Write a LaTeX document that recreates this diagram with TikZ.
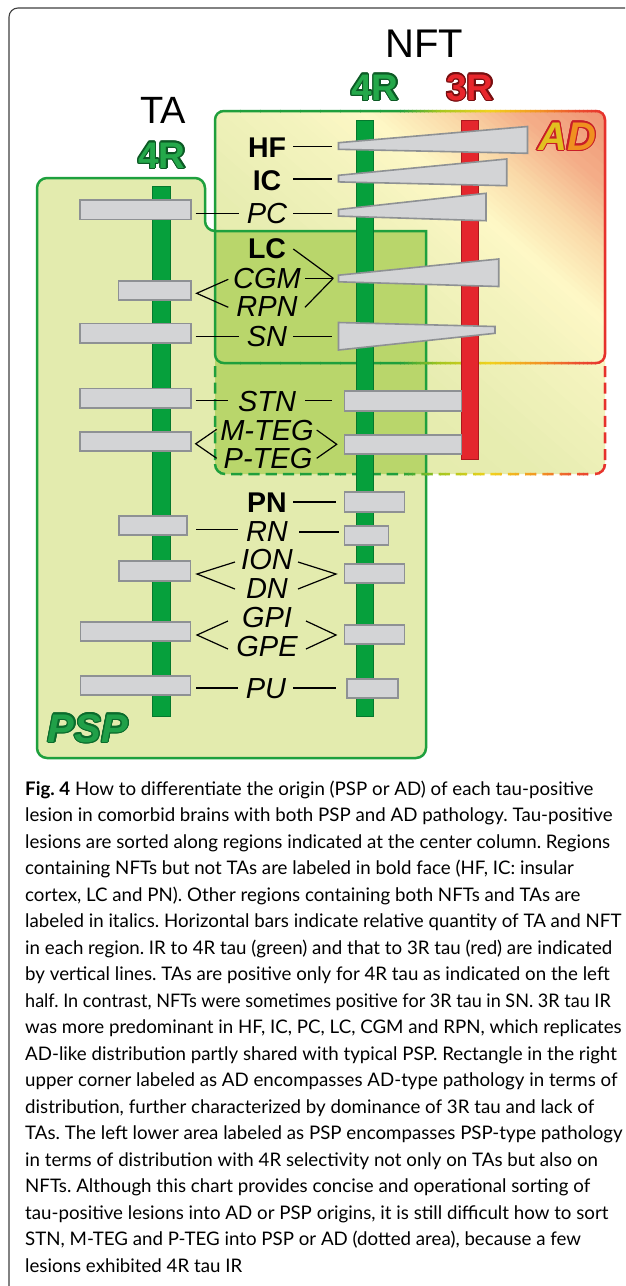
\documentclass[tikz,border=0pt]{standalone}
\usepackage{fontspec}
\usepackage{graphicx}
\setmainfont{Lato}
\newfontfamily\labfont{Liberation Sans}
\usetikzlibrary{calc}
\frenchspacing

\definecolor{pspfill}{RGB}{227,235,174}
\definecolor{ovfill}{RGB}{185,214,107}
\definecolor{grnline}{RGB}{30,160,62}
\definecolor{barg}{RGB}{6,160,60}
\definecolor{bargedge}{RGB}{5,120,46}
\definecolor{barr}{RGB}{228,38,45}
\definecolor{barredge}{RGB}{170,24,30}
\definecolor{grayfill}{RGB}{211,212,214}
\definecolor{grayedge}{RGB}{142,145,148}
\definecolor{ga}{RGB}{224,232,166}
\definecolor{gb}{RGB}{231,237,177}
\definecolor{gc}{RGB}{244,243,190}
\definecolor{gd}{RGB}{254,248,198}
\definecolor{ge}{RGB}{250,219,170}
\definecolor{gf}{RGB}{244,174,136}
\definecolor{gg}{RGB}{238,138,108}
\definecolor{ba}{RGB}{31,159,60}
\definecolor{bb}{RGB}{165,198,32}
\definecolor{bc}{RGB}{241,210,30}
\definecolor{bd}{RGB}{242,148,36}
\definecolor{be}{RGB}{236,84,48}
\definecolor{bf}{RGB}{228,37,43}
\definecolor{fourfill}{RGB}{36,168,74}
\definecolor{fouredge}{RGB}{12,90,37}
\definecolor{threefill}{RGB}{232,38,44}
\definecolor{threeedge}{RGB}{120,14,16}
\definecolor{adA}{RGB}{226,192,32}
\definecolor{adD}{RGB}{240,144,32}
\definecolor{adedge}{RGB}{200,30,40}
\definecolor{pspfont}{RGB}{32,160,72}
\definecolor{pspedge}{RGB}{11,107,44}

\tikzset{
  graybar/.style={draw=grayedge, fill=grayfill, line width=1.6pt},
  vbarg/.style={draw=bargedge, fill=barg, line width=0.8pt},
  vbarr/.style={draw=barredge, fill=barr, line width=0.8pt},
  conn/.style={black, line width=1.2pt},
  itlab/.style={font=\labfont\fontsize{29}{30}\selectfont\itshape, anchor=base, inner sep=0pt},
  bflab/.style={font=\labfont\fontsize{28.5}{30}\selectfont\bfseries, anchor=base, inner sep=0pt},
  captext/.style={anchor=base west, inner sep=0pt, font=\fontsize{18.7}{26}\selectfont},
}

\newcommand\gradstrips[3]{%
  \foreach \pa/\pb/\ca/\cb in {#1} {%
    \foreach \k in {0,...,9} {%
      \pgfmathsetmacro\xa{\pa+(\pb-\pa)*\k/10}%
      \pgfmathsetmacro\xb{\pa+(\pb-\pa)*(\k+1)/10+0.6}%
      \pgfmathtruncatemacro\pct{95-\k*10}%
      \fill[fill=\ca!\pct!\cb] (\xa,#2) rectangle (\xb,#3);
    }%
  }%
}
\newcommand\outlinedtext[6]{%
  \foreach \ang in {0,22.5,...,337.5}{\node[anchor=base, inner sep=0pt, font={#3}, text=#4, shift={(\ang:1.2)}] at (#2) {#6};}
  \node[anchor=base, inner sep=0pt, font={#3}, text=#5] (#1) at (#2) {#6};
}

\begin{document}
\begin{tikzpicture}[x=1pt,y=-1pt]
\useasboundingbox (0,0) rectangle (625,1286);
\clip (0,0) rectangle (625,1286);
\fill[white] (0,0) rectangle (625,1286);

% outer frame
\draw[line width=1.1pt, black!75] (9,1290) -- (9,17) arc[start angle=180, end angle=270, radius=9] -- (630,8);

% PSP fill
\fill[pspfill, rounded corners=10] (37,400) -- (37,178) -- (205,178) -- (205,231) [sharp corners] -- (426,231) [rounded corners=10] -- (426,758) -- (37,758) -- cycle;

% AD gradient fill (solid + dashed area)
\begin{scope}
  \clip[rounded corners=10] (215,111) rectangle (605,474);
  \begin{scope}[rotate=49]
    \gradstrips{-260/0/ga/gb, 0/100/gb/gc, 100/155/gc/gd, 155/205/gd/ge, 205/255/ge/gf, 255/340/gf/gg}{-1500}{1500}
  \end{scope}
\end{scope}

% overlap
\begin{scope}
  \clip[rounded corners=10] (215,111) rectangle (605,474);
  \clip[rounded corners=10] (37,400) -- (37,178) -- (205,178) -- (205,231) [sharp corners] -- (426,231) [rounded corners=10] -- (426,758) -- (37,758) -- cycle;
  \fill[ovfill] (200,200) rectangle (440,480);
\end{scope}

% PSP border
\draw[grnline, line width=2.5pt, rounded corners=10] (37,400) -- (37,178) -- (205,178) -- (205,231) [sharp corners] -- (426,231) [rounded corners=10] -- (426,758) -- (37,758) -- cycle;

% AD solid border (gradient ring)
\begin{scope}[even odd rule]
  \clip[rounded corners=10] (213.75,109.75) rectangle (606.25,364.25) [rounded corners=7.5] (216.25,112.25) rectangle (603.75,361.75);
  \gradstrips{200/400/ba/ba, 400/440/ba/bb, 440/490/bb/bc, 490/540/bc/bd, 540/575/bd/be, 575/615/be/bf}{100}{480}
\end{scope}

% AD dashed border
\begin{scope}
  \clip \foreach \k in {0,...,5} {(213.75,366+16.6*\k) rectangle (216.25,377+16.6*\k) (603.75,366+16.6*\k) rectangle (606.25,377+16.6*\k)}
        \foreach \k in {0,...,20} {(231+17.3*\k,472.75) rectangle (242.3+17.3*\k,475.25)}
        (213.75,464) arc[start angle=180,end angle=90,radius=11.25] -- (225,472.75) arc[start angle=90,end angle=180,radius=8.75] -- cycle
        (606.25,464) arc[start angle=0,end angle=90,radius=11.25] -- (595,472.75) arc[start angle=90,end angle=0,radius=8.75] -- cycle;
  \gradstrips{200/400/ba/ba, 400/440/ba/bb, 440/490/bb/bc, 490/540/bc/bd, 540/575/bd/be, 575/615/be/bf}{100}{480}
\end{scope}

% vertical bars
\draw[vbarg] (152.7,186) rectangle (170,716);
\draw[vbarg] (356,120) rectangle (373,716);
\draw[vbarr] (461,120) rectangle (478,459);

% TA bars
\draw[graybar] (80,200) rectangle (191,219.3);
\draw[graybar] (118.5,280.7) rectangle (191,300);
\draw[graybar] (80,323.3) rectangle (191,342.7);
\draw[graybar] (80,388.3) rectangle (191,407.7);
\draw[graybar] (80,431.7) rectangle (191,451);
\draw[graybar] (119,516) rectangle (187,535);
\draw[graybar] (119,561) rectangle (190.5,581);
\draw[graybar] (80.5,622) rectangle (190.5,641);
\draw[graybar] (80.5,676) rectangle (190.5,695);

% NFT bars
\draw[graybar] (344.5,391) rectangle (461.5,411);
\draw[graybar] (344.5,435) rectangle (461.5,454);
\draw[graybar] (344.5,492) rectangle (404.5,512);
\draw[graybar] (344.5,526) rectangle (388.6,545);
\draw[graybar] (344.5,564) rectangle (404.5,583);
\draw[graybar] (344.5,625) rectangle (404.5,644);
\draw[graybar] (347,679) rectangle (398,698);

% NFT wedges
\draw[graybar, line join=miter] (338.5,142.7) -- (527.5,126.5) -- (527.5,153.3) -- (338.5,149.3) -- cycle;
\draw[graybar, line join=miter] (338.5,175.3) -- (506.7,159) -- (506.7,185.7) -- (338.5,181.9) -- cycle;
\draw[graybar, line join=miter] (338.5,209.5) -- (486,193.3) -- (486,220.7) -- (338.5,216.1) -- cycle;
\draw[graybar, line join=miter] (338.5,275.2) -- (498.7,259) -- (498.7,286.5) -- (338.5,281.8) -- cycle;
\draw[graybar, line join=miter] (338.5,322.5) -- (495,326.5) -- (495,333.3) -- (338.5,350) -- cycle;

% labels
\node[bflab] (hf) at (267,157.7) {HF};
\node[bflab] (ic) at (267,190.5) {IC};
\node[itlab] (pc) at (267,223.3) {PC};
\node[bflab] (lc) at (267,258.7) {LC};
\node[itlab] (cgm) at (267,288.3) {CGM};
\node[itlab] (rpn) at (267,316.5) {RPN};
\node[itlab] (sn) at (267,346.7) {SN};
\node[itlab] (stn) at (267,411.5) {STN};
\node[itlab] (mteg) at (267,440.7) {M-TEG};
\node[itlab] (pteg) at (268,468.7) {P-TEG};
\node[bflab] (pn) at (267,512) {PN};
\node[itlab] (rn) at (267,541) {RN};
\node[itlab] (ion) at (267,569) {ION};
\node[itlab] (dn) at (267,598) {DN};
\node[itlab] (gpi) at (267,627) {GPI};
\node[itlab] (gpe) at (267,656) {GPE};
\node[itlab] (pu) at (266,698) {PU};

% connector end points
\coordinate (hfA) at (293.3,146.5); \coordinate (hfB) at (331.7,146.5);
\coordinate (icA) at (293.3,179); \coordinate (icB) at (331.7,179);
\coordinate (pcL1) at (195.7,213.3); \coordinate (pcL2) at (239,213.3);
\coordinate (pcR1) at (293.3,213.3); \coordinate (pcR2) at (331.7,213.3);
\coordinate (lcE) at (293.3,249); \coordinate (cgmE) at (305,278.3); \coordinate (rpnE) at (305,307.3); \coordinate (vR1) at (333.3,278.3);
\coordinate (vL1) at (196.7,293.3); \coordinate (cgmW) at (228.3,279.3); \coordinate (rpnW) at (228.3,307.3);
\coordinate (snL1) at (195.7,336.7); \coordinate (snL2) at (239,336.7);
\coordinate (snR1) at (293.3,336.7); \coordinate (snR2) at (331.7,336.7);
\coordinate (stnL1) at (195.7,400.7); \coordinate (stnL2) at (228.3,400.7);
\coordinate (stnR1) at (305,400.7); \coordinate (stnR2) at (331.7,400.7);
\coordinate (vL2) at (195.7,443.8); \coordinate (mtW) at (216.7,429.3); \coordinate (ptW) at (216.7,458.3);
\coordinate (vR2) at (336.7,444.3); \coordinate (mtE) at (316.7,430); \coordinate (ptE) at (316.7,458.3);
\coordinate (pnA) at (293.3,502); \coordinate (pnB) at (336,502);
\coordinate (rnL1) at (196,529.5); \coordinate (rnL2) at (238,529.5);
\coordinate (rnR1) at (299,532); \coordinate (rnR2) at (339,532);
\coordinate (vL3) at (197,574); \coordinate (ionW) at (235,562); \coordinate (dnW) at (235,589);
\coordinate (vR3) at (336,574); \coordinate (ionE) at (298,562); \coordinate (dnE) at (298,589);
\coordinate (vL4) at (197,635); \coordinate (gpiW) at (228,621); \coordinate (gpeW) at (228,649);
\coordinate (vR4) at (336,635); \coordinate (gpiE) at (306,621); \coordinate (gpeE) at (306,649);
\coordinate (puL1) at (196,688); \coordinate (puL2) at (238,688);
\coordinate (puR1) at (293,688); \coordinate (puR2) at (336,688);

\draw[conn] (hfA) -- (hfB);
\draw[conn] (icA) -- (icB);
\draw[conn] (pcL1) -- (pcL2);
\draw[conn] (pcR1) -- (pcR2);
\draw[conn] (lcE) -- (vR1);
\draw[conn] (cgmE) -- (vR1);
\draw[conn] (rpnE) -- (vR1);
\draw[conn] (cgmW) -- (vL1) -- (rpnW);
\draw[conn] (snL1) -- (snL2);
\draw[conn] (snR1) -- (snR2);
\draw[conn] (stnL1) -- (stnL2);
\draw[conn] (stnR1) -- (stnR2);
\draw[conn] (mtW) -- (vL2) -- (ptW);
\draw[conn] (mtE) -- (vR2) -- (ptE);
\draw[conn] (pnA) -- (pnB);
\draw[conn] (rnL1) -- (rnL2);
\draw[conn] (rnR1) -- (rnR2);
\draw[conn] (ionW) -- (vL3) -- (dnW);
\draw[conn] (ionE) -- (vR3) -- (dnE);
\draw[conn] (gpiW) -- (vL4) -- (gpeW);
\draw[conn] (gpiE) -- (vR4) -- (gpeE);
\draw[conn] (puL1) -- (puL2);
\draw[conn] (puR1) -- (puR2);

% titles
\node[anchor=base, inner sep=0pt, font=\labfont\fontsize{40}{40}\selectfont] (nft) at (424,57) {NFT};
\node[anchor=base, inner sep=0pt, font=\labfont\fontsize{38}{38}\selectfont] (ta) at (163,123) {TA};
\outlinedtext{fourNFT}{375,100}{\labfont\bfseries\fontsize{37}{37}\selectfont}{fouredge}{fourfill}{4R}
\outlinedtext{threeNFT}{470,100}{\labfont\bfseries\fontsize{37}{37}\selectfont}{threeedge}{threefill}{3R}
\outlinedtext{fourTA}{162,168}{\labfont\bfseries\fontsize{37}{37}\selectfont}{fouredge}{fourfill}{4R}
\outlinedtext{psplab}{88,742}{\labfont\bfseries\itshape\fontsize{40}{40}\selectfont}{pspedge}{pspfont}{PSP}
\foreach \ang in {0,22.5,...,337.5}{\node[anchor=base, inner sep=0pt, font=\labfont\bfseries\itshape\fontsize{40}{40}\selectfont, text=adedge, shift={(\ang:1.2)}] at (567,150) {AD};}
\node[anchor=base, inner sep=0pt, font=\labfont\bfseries\itshape\fontsize{40}{40}\selectfont] (adlab) at (567,150) {\textcolor{adA}{A}\textcolor{adD}{D}};

% caption
\node[captext] (c1) at (25,795) {\textbf{Fig. 4} How to differentiate the origin (PSP or AD) of each tau-positive};
\node[captext] (c2) at (25,821.5) {lesion in comorbid brains with both PSP and AD pathology. Tau-positive};
\node[captext] (c3) at (25,848) {lesions are sorted along regions indicated at the center column. Regions};
\node[captext] (c4) at (25,874.5) {containing NFTs but not TAs are labeled in bold face (HF, IC: insular};
\node[captext] (c5) at (25,901) {cortex, LC and PN). Other regions containing both NFTs and TAs are};
\node[captext] (c6) at (25,927.5) {labeled in italics. Horizontal bars indicate relative quantity of TA and NFT};
\node[captext] (c7) at (25,954) {in each region. IR to 4R tau (green) and that to 3R tau (red) are indicated};
\node[captext] (c8) at (25,980.5) {by vertical lines. TAs are positive only for 4R tau as indicated on the left};
\node[captext] (c9) at (25,1007) {\scalebox{0.965}[1]{half. In contrast, NFTs were sometimes positive for 3R tau in SN. 3R tau IR}};
\node[captext] (c10) at (25,1033.5) {was more predominant in HF, IC, PC, LC, CGM and RPN, which replicates};
\node[captext] (c11) at (25,1060) {AD-like distribution partly shared with typical PSP. Rectangle in the right};
\node[captext] (c12) at (25,1086.5) {upper corner labeled as AD encompasses AD-type pathology in terms of};
\node[captext] (c13) at (25,1113) {distribution, further characterized by dominance of 3R tau and lack of};
\node[captext] (c14) at (25,1139.5) {TAs. The left lower area labeled as PSP encompasses PSP-type pathology};
\node[captext] (c15) at (25,1166) {in terms of distribution with 4R selectivity not only on TAs but also on};
\node[captext] (c16) at (25,1192.5) {NFTs. Although this chart provides concise and operational sorting of};
\node[captext] (c17) at (25,1219) {tau-positive lesions into AD or PSP origins, it is still difficult how to sort};
\node[captext] (c18) at (25,1245.5) {STN, M-TEG and P-TEG into PSP or AD (dotted area), because a few};
\node[captext] (c19) at (25,1272) {lesions exhibited 4R tau IR};
\end{tikzpicture}
\end{document}
